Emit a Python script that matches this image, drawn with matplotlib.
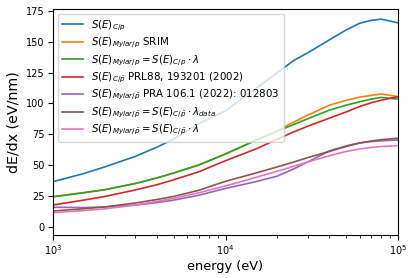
import numpy as np
import matplotlib
matplotlib.use("Agg")
import matplotlib.pyplot as plt

# energie-punkter (eV) lest av figuren
energi = [1000, 1500, 2000, 3000, 4000, 5000, 7000, 10000, 15000, 20000,
          25000, 30000, 40000, 50000, 60000, 70000, 80000, 100000]

# S(E) C/p
s_c_p = [36.5, 43, 48.5, 57, 64.5, 71, 83.5, 94, 112, 125,
         135, 141, 151.5, 159.5, 165, 167.3, 168.3, 165.3]
# S(E) Mylar/p SRIM
s_mylar_srim = [24.3, 27.5, 30, 35, 39.5, 43.5, 50, 59, 70, 78,
                85, 90.5, 98.5, 102.5, 105, 106.5, 107.6, 105.5]
# S(E) Mylar/p = S(E) C/p * lambda
s_mylar_lam = [24.3, 27.5, 30, 35, 39.5, 43.5, 50, 59, 70, 77.5,
               83, 87.5, 94.5, 98.5, 101.3, 103.5, 104.8, 103.4]
# S(E) C/pbar PRL88
s_c_pbar = [17.6, 21.5, 24.5, 29.8, 34, 38, 44.5, 53.5, 63, 71,
            77, 81.5, 88, 93, 97.5, 100.5, 102.5, 105.5]
# S(E) Mylar/pbar PRA 106.1
s_mylar_pra = [15.7, 15.5, 16, 17.5, 19.5, 21.5, 25.5, 31, 36.5, 41,
               47, 52.5, 61.5, 65.5, 68, 69, 69.6, 70.3]
# S(E) Mylar/pbar = S(E) C/pbar * lambda_data
s_mylar_lamdata = [12.7, 14.5, 16, 19.2, 22, 24.5, 29.5, 36.8, 43.5, 48.5,
                   52.5, 56, 61, 65, 67.8, 69.5, 70.5, 71.7]
# S(E) Mylar/pbar = S(E) C/pbar * lambda
s_mylar_pbar_lam = [11.4, 13, 14.5, 17.5, 20.5, 23, 27.5, 33, 40, 45,
                    49, 52.5, 57.5, 61, 63, 64.3, 65, 65.7]

etiketter = [
    r'$S(E)_{C/p}$',
    r'$S(E)_{Mylar/p}$ SRIM',
    r'$S(E)_{Mylar/p} = S(E)_{C/p} \cdot \lambda$',
    r'$S(E)_{C/\bar{p}}$ PRL88, 193201 (2002)',
    r'$S(E)_{Mylar/\bar{p}}$ PRA 106.1 (2022): 012803',
    r'$S(E)_{Mylar/\bar{p}} = S(E)_{C/\bar{p}} \cdot \lambda_{data}$',
    r'$S(E)_{Mylar/\bar{p}} = S(E)_{C/\bar{p}} \cdot \lambda$',
]
serier = [s_c_p, s_mylar_srim, s_mylar_lam, s_c_pbar, s_mylar_pra, s_mylar_lamdata, s_mylar_pbar_lam]

fig = plt.figure(figsize=(4.15, 2.78), dpi=100)
ax = fig.add_axes([0.128, 0.155, 0.831, 0.813])

for s, lab in zip(serier, etiketter):
    ax.plot(energi, s, label=lab, linewidth=1.2)

ax.set_xscale('log')
ax.set_xlim(1e3, 1e5)
ax.set_ylim(-6.7, 176.6)
ax.set_yticks([0, 25, 50, 75, 100, 125, 150, 175])
ax.tick_params(labelsize=7, pad=2.5)
ax.set_xlabel('energy (eV)', fontsize=9.3, labelpad=2)
ax.set_ylabel('dE/dx (eV/nm)', fontsize=10.3)
ax.legend(loc='upper left', fontsize=7.4, labelspacing=0.3)

fig.savefig('out.png', dpi=100)
